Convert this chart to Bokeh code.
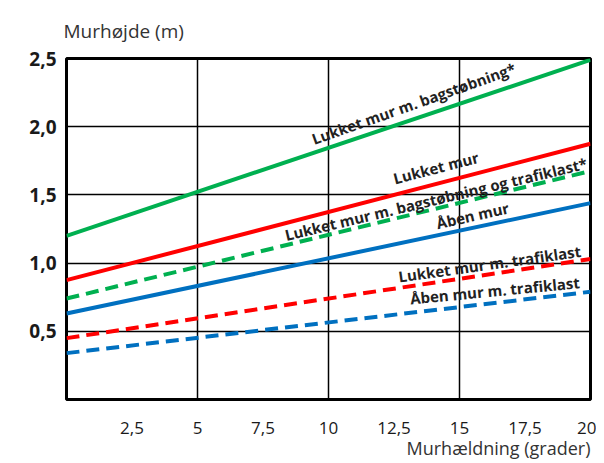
from bokeh.plotting import figure
from bokeh.models import FixedTicker, Title, CustomJSTickFormatter
from bokeh.core.properties import value
from bokeh.embed import file_html
from bokeh.resources import INLINE
import math

# ---- data ----
x_deg = [0, 20]
lukket_bag = [1.20, 2.49]          # Lukket mur m. bagstøbning*
lukket = [0.875, 1.875]            # Lukket mur
lukket_bag_traf = [0.74, 1.675]    # Lukket mur m. bagstøbning og trafiklast*
aaben = [0.63, 1.44]               # Åben mur
lukket_traf = [0.45, 1.03]         # Lukket mur m. trafiklast
aaben_traf = [0.34, 0.79]          # Åben mur m. trafiklast

x_ticks = [2.5, 5, 7.5, 10, 12.5, 15, 17.5, 20]
y_ticks = [0.5, 1.0, 1.5, 2.0, 2.5]

label_texts = [
    "Lukket mur m. bagstøbning*",
    "Lukket mur",
    "Lukket mur m. bagstøbning og trafiklast*",
    "Åben mur",
    "Lukket mur m. trafiklast",
    "Åben mur m. trafiklast",
]
# label placement (layout, not data)
label_x = [13.25, 14.1, 14.1, 15.5, 16.15, 16.35]
label_y = [2.17, 1.70, 1.47, 1.35, 0.995, 0.80]
label_angle_deg = [19.5, 14.5, 13.5, 12.5, 8.0, 5.5]

FONT = "Open Sans"

p = figure(width=596, height=460, x_range=(0, 20), y_range=(0, 2.5),
           output_backend="svg", toolbar_location=None,
           min_border_left=66, min_border_right=6, min_border_top=58,
           min_border_bottom=61, background_fill_color="white",
           border_fill_color="white")

p.outline_line_color = "black"
p.outline_line_width = 3
p.outline_line_alpha = 1.0

p.xgrid.ticker = FixedTicker(ticks=[5, 10, 15])
p.ygrid.ticker = FixedTicker(ticks=[0.5, 1.0, 1.5, 2.0])
for g in (p.xgrid, p.ygrid):
    g.grid_line_color = "black"
    g.grid_line_width = 1.5
    g.grid_line_alpha = 1.0

p.xaxis.ticker = FixedTicker(ticks=x_ticks)
p.yaxis.ticker = FixedTicker(ticks=y_ticks)
p.xaxis.formatter = CustomJSTickFormatter(code="""
  const s = (tick % 1 === 0) ? tick.toFixed(0) : tick.toFixed(1);
  return s.replace('.', ',');
""")
p.yaxis.formatter = CustomJSTickFormatter(code="""
  return tick.toFixed(1).replace('.', ',');
""")
for ax in (p.xaxis, p.yaxis):
    ax.axis_line_color = None
    ax.major_tick_line_color = None
    ax.minor_tick_line_color = None
    ax.major_label_text_font = FONT
    ax.major_label_text_color = "#1a1a1a"
p.xaxis.major_label_text_font_size = "17px"
p.xaxis.major_label_standoff = 16
p.yaxis.major_label_text_font_size = "19px"
p.yaxis.major_label_text_font_style = "bold"
p.yaxis.major_label_standoff = 4

# lines
p.line(x_deg, lukket_bag, line_color="#00B050", line_width=4)
p.line(x_deg, lukket, line_color="#FF0000", line_width=4)
p.line(x_deg, lukket_bag_traf, line_color="#00B050", line_width=4, line_dash="13 7")
p.line(x_deg, aaben, line_color="#0070C0", line_width=4)
p.line(x_deg, lukket_traf, line_color="#FF0000", line_width=4, line_dash="13 7")
p.line(x_deg, aaben_traf, line_color="#0070C0", line_width=4, line_dash="13 7")

p.text(x=label_x, y=label_y, text=label_texts,
       angle=[math.radians(a) for a in label_angle_deg],
       text_align="center", text_baseline="middle",
       text_font=value(FONT), text_font_style="bold",
       text_font_size="15px", text_color="#222222")

# axis titles
p.add_layout(Title(text="Murhøjde (m)", align="left", offset=-3,
                   text_font=FONT, text_font_size="19px",
                   text_font_style="normal", text_color="#333333",
                   standoff=30), "above")
p.add_layout(Title(text="Murhældning (grader)", align="right", offset=0,
                   text_font=FONT, text_font_size="18px",
                   text_font_style="normal", text_color="#333333",
                   standoff=-5), "below")

open("out.html", "w").write(file_html(p, INLINE))
